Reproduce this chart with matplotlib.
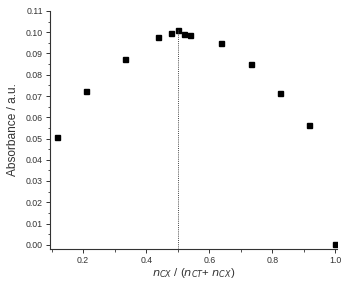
import matplotlib
matplotlib.use("Agg")
import matplotlib.pyplot as plt
from matplotlib.ticker import MultipleLocator

plt.rcParams["font.family"] = ["Liberation Sans", "DejaVu Sans"]

mole_fraction = [0.118, 0.21, 0.333, 0.438, 0.48, 0.5, 0.52, 0.54, 0.637, 0.733, 0.825, 0.917, 1.0]
absorbance = [0.0505, 0.0724, 0.0872, 0.0980, 0.0996, 0.1010, 0.0990, 0.0985, 0.0950, 0.0850, 0.0716, 0.0563, 0.0003]

peak_x = 0.5
peak_y = 0.101

fig = plt.figure(figsize=(3.41, 2.82), dpi=100)
ax = fig.add_axes([50 / 341, 1 - 249 / 282, 287 / 341, 238 / 282])

ax.plot(mole_fraction, absorbance, linestyle="none", marker="s",
        markersize=3.6, color="black")
ax.plot([peak_x, peak_x], [-0.002, peak_y], linestyle=(0, (1, 1.2)),
        color="#444444", linewidth=0.7)

ax.set_xlim(0.095, 1.005)
ax.set_ylim(-0.002, 0.11)

ax.xaxis.set_major_locator(MultipleLocator(0.2))
ax.xaxis.set_minor_locator(MultipleLocator(0.1))
ax.yaxis.set_major_locator(MultipleLocator(0.01))
ax.yaxis.set_minor_locator(MultipleLocator(0.005))
ax.xaxis.set_major_formatter(plt.FormatStrFormatter("%.1f"))
ax.yaxis.set_major_formatter(plt.FormatStrFormatter("%.2f"))

for side in ["top", "right"]:
    ax.spines[side].set_visible(False)
for side in ["left", "bottom"]:
    ax.spines[side].set_linewidth(0.8)
    ax.spines[side].set_color("#333333")

ax.tick_params(which="major", direction="out", length=3, width=0.7,
               labelsize=6.3, colors="#333333", pad=2)
ax.tick_params(which="minor", direction="out", length=1.8, width=0.6,
               colors="#333333")

ax.set_ylabel("Absorbance / a.u.", fontsize=8.6, color="#333333", labelpad=5)
ax.set_xlabel(r"$n_{CX}$ / ($n_{CT}$+ $n_{CX}$)", fontsize=8.2, color="#333333",
              labelpad=1)

fig.savefig("out.png", dpi=100)
